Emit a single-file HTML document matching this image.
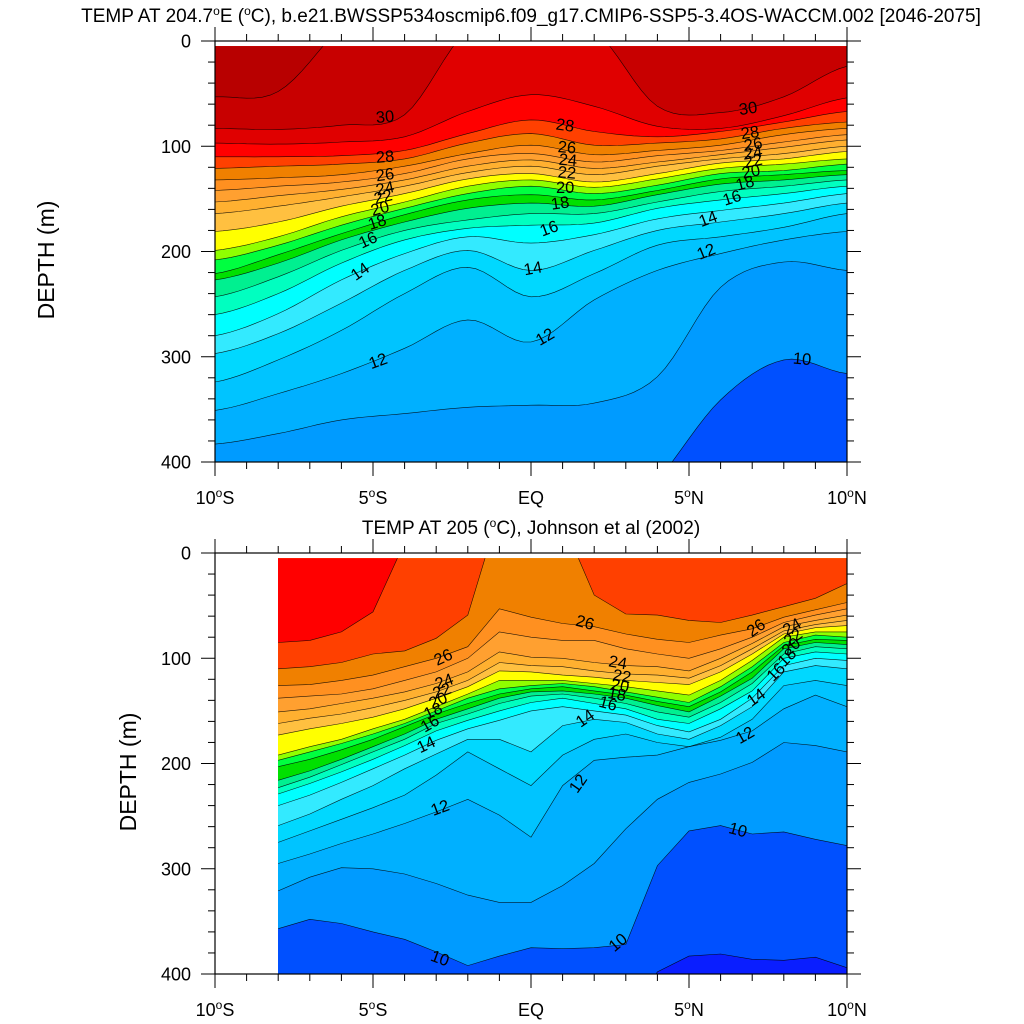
<!DOCTYPE html>
<html><head><meta charset="utf-8"><style>
html,body{margin:0;padding:0;background:#fff;}
svg{display:block;font-family:"Liberation Sans",sans-serif;}
</style></head><body>
<svg id="chart" width="1024" height="1024" viewBox="0 0 1024 1024" xmlns="http://www.w3.org/2000/svg">
<defs>
<clipPath id="clipTop"><rect x="215" y="46.3" width="632" height="415.7"/></clipPath>
<clipPath id="clipBot"><rect x="278" y="558.3" width="569" height="415.7"/></clipPath>
</defs>
<g id="topFill" clip-path="url(#clipTop)"></g>
<g id="botFill" clip-path="url(#clipBot)"></g>
<g id="axes"></g>
<text x="531" y="22" font-size="19" text-anchor="middle">TEMP AT 204.7<tspan font-size="12" dy="-7">o</tspan><tspan dy="7">E (</tspan><tspan font-size="12" dy="-7">o</tspan><tspan dy="7">C), b.e21.BWSSP534oscmip6.f09_g17.CMIP6-SSP5-3.4OS-WACCM.002 [2046-2075]</tspan></text>
<text x="531" y="534" font-size="19" text-anchor="middle">TEMP AT 205 (<tspan font-size="12" dy="-7">o</tspan><tspan dy="7">C), Johnson et al (2002)</tspan></text>
<text x="0" y="0" font-size="23" text-anchor="middle" transform="translate(54,260) rotate(-90)">DEPTH (m)</text>
<text x="0" y="0" font-size="23" text-anchor="middle" transform="translate(136,772) rotate(-90)">DEPTH (m)</text>
</svg>
<script>
// ---- data ----
const levels = [9,10,11,12,13,14,15,16,17,18,19,20,21,22,23,24,25,26,27,28,29,30,31];
const bandColors = ['#0050ff','#009bff','#00b0ff','#00c4ff','#00d8ff','#33eaff','#00ffff','#00ffc0','#00f090','#00e000','#00ff40','#90ff00','#ffff00','#ffc040','#ffb030','#ffa030','#ff9020','#f08000','#ff4000','#ff0000','#e00000','#c80000','#b80000'];
const baseColor = '#0a1eff';

const topLats = [-10,-8,-6,-4,-2,0,2,4,6,8,10];
const topT9  = [450,450,450,450,450,450,450,450,450,450,450];
const topT10 = [411,411,411,411,427,443,474,417,341,303,316];
const topT11 = [383,373,360,354,348,346,344,319,234,210,218];
const topT12 = [351,335,316,292,265,286,246,218,202,189,181];
const topT13 = [324,303,275,240,215,243,221,194,186,177,164];
const topT14 = [297,278,249,218,199,218,199,180,172,164,154];
const topT15 = [280,259,227,202,186,192,184,169,161,154,145];
const topT16 = [260,240,211,189,178,175,173,159,151,145,138];
const topT17 = [243,224,199,180,170,164,164,153,143,138,132];
const topT18 = [227,211,189,172,159,154,157,146,136,132,127];
const topT19 = [221,203,183,165,151,146,151,142,131,127,123];
const topT20 = [208,194,175,159,145,138,145,137,126,123,117];
const topT21 = [199,186,167,153,138,132,139,131,121,117,112];
const topT22 = [181,172,157,145,131,126,134,126,116,112,105];
const topT23 = [164,157,148,138,125,119,127,119,112,107,100];
const topT24 = [153,147,141,132,119,113,121,115,108,101,94];
const topT25 = [142,138,134,126,112,107,115,109,104,96,89];
const topT26 = [132,130,127,119,107,99,108,104,99,89,83];
const topT27 = [121,119,117,112,97,88,99,97,93,83,77];
const topT28 = [110,110,109,104,88,75,86,91,86,77,67];
const topT29 = [97,98,96,91,67,51,62,81,83,71,54];
const topT30 = [83,84,80,70,-10,-20,-10,62,68,53,24];
const topT31 = [53,48,-14,-64,-64,-64,-64,-64,-64,-64,-64];
const topIso = [topT9,topT10,topT11,topT12,topT13,topT14,topT15,topT16,topT17,topT18,topT19,topT20,topT21,topT22,topT23,topT24,topT25,topT26,topT27,topT28,topT29,topT30,topT31];

const botLats = [-8,-7,-6,-5,-4,-3,-2,-1,0,1,2,3,4,5,6,7,8,9,10];
const botT9  = [450,450,450,450,450,450,450,450,450,450,450,443,398,383,381,386,387,384,394];
const botT10 = [357,348,352,360,367,379,392,383,375,376,375,372,297,264,259,267,265,272,278];
const botT11 = [321,308,299,300,305,314,325,332,332,316,295,262,234,218,210,199,180,183,189];
const botT12 = [295,286,276,267,257,246,234,249,270,221,197,194,192,184,178,169,148,135,146];
const botT13 = [275,264,253,242,230,211,189,205,221,192,177,172,180,184,175,158,126,121,126];
const botT14 = [259,248,234,221,205,191,177,177,189,164,158,161,172,177,164,146,113,107,110];
const botT15 = [240,230,218,205,192,178,167,159,150,146,150,154,164,170,158,138,107,100,102];
const botT16 = [229,219,208,196,183,169,159,150,142,138,143,148,158,162,148,131,100,94,96];
const botT17 = [223,213,201,189,177,162,153,143,136,134,138,143,151,156,142,124,96,89,91];
const botT18 = [216,207,196,184,172,158,148,138,132,131,134,138,145,151,136,119,91,85,87];
const botT19 = [203,196,187,177,165,153,143,134,129,127,131,135,141,146,132,113,88,82,83];
const botT20 = [197,189,181,172,162,150,138,129,126,124,127,132,137,142,127,108,85,78,80];
const botT21 = [192,184,177,167,158,146,134,121,121,121,124,127,131,135,121,102,80,75,75];
const botT22 = [173,167,162,156,148,138,127,112,113,116,118,121,123,125,113,96,77,71,69];
const botT23 = [162,157,153,147,140,132,121,104,107,108,112,115,116,119,107,91,74,68,64];
const botT24 = [151,148,143,138,132,124,113,94,99,100,104,107,108,112,100,86,70,64,59];
const botT25 = [138,136,134,129,121,113,100,75,80,83,83,91,96,100,91,80,66,59,53];
const botT26 = [126,125,121,116,108,100,89,53,61,67,70,77,82,85,78,72,61,54,47];
const botT27 = [110,108,104,96,93,81,59,-40,-40,-30,40,58,59,64,66,59,51,43,29];
const botT28 = [85,83,75,56,-10,-10,-10,-10,-10,-10,-10,-10,-10,-10,-10,-10,-10,-10,-10];
const botT29 = [-90,-90,-90,-90,-90,-90,-90,-90,-90,-90,-90,-90,-90,-90,-90,-90,-90,-90,-90];
const botIso = [botT9,botT10,botT11,botT12,botT13,botT14,botT15,botT16,botT17,botT18,botT19,botT20,botT21,botT22,botT23,botT24,botT25,botT26,botT27,botT28,botT29];

const topLabelText = ['30','28','26','24','22','20','18','16','14','12','28','26','24','22','20','18','16','14','12','30','28','26','24','22','20','18','16','14','12','10'];
const topLabelLat = [-4.62,-4.62,-4.62,-4.62,-4.68,-4.78,-4.87,-5.16,-5.41,-4.84,1.08,1.14,1.17,1.14,1.08,0.92,0.57,0.06,0.44,6.87,6.93,7.03,7.03,7.03,6.96,6.77,6.36,5.6,5.54,8.58];
const topLabelDepth = [72,110,127,140,148,159,172,189,219,304,80,101,113,125,139,154,178,216,281,64,87,98,106,114,124,135,149,169,200,302];
const topLabelRot = [-5,-5,-8,-12,-14,-16,-18,-25,-35,-20,8,5,5,5,0,-8,-20,-10,-30,-8,-8,-10,-10,-12,-12,-15,-18,-20,-22,5];

const botLabelText = ['26','24','22','20','18','16','14','12','10','26','24','22','20','18','16','14','12','10','26','24','22','20','18','16','14','12','10'];
const botLabelLat = [-2.78,-2.75,-2.82,-2.94,-3.1,-3.2,-3.32,-2.88,-2.88,1.71,2.75,2.88,2.82,2.72,2.44,1.71,1.49,2.75,7.12,8.26,8.29,8.23,8.1,7.75,7.12,6.77,6.55];
const botLabelDepth = [99,122,131,140,150,162,182,242,385,66,104,117,126,134,143,157,219,370,71,70,80,89,99,113,137,173,263];
const botLabelRot = [-25,-20,-20,-25,-25,-30,-25,-20,20,15,10,10,10,10,15,-35,-55,-40,-35,-30,-35,-40,-45,-45,-35,-30,15];

const xTickLabels = ['10°S','5°S','EQ','5°N','10°N'];
const xTickLats = [-10,-5,0,5,10];
const yTickLabels = ['0','100','200','300','400'];
const yTickDepths = [0,100,200,300,400];

// ---- axis functions ----
const X0 = 215, X1 = 847;
function xS(lat){ return X0 + (lat + 10) / 20 * (X1 - X0); }
function yTop(d){ return 41 + d * 421 / 400; }
function yBot(d){ return 553 + d * 421 / 400; }

const NS = 'http://www.w3.org/2000/svg';
function mk(tag, attrs, parent){
  const e = document.createElementNS(NS, tag);
  for (const k in attrs) e.setAttribute(k, attrs[k]);
  parent.appendChild(e);
  return e;
}

function catmull(lats, vals, step){
  const out = [];
  for (let i = 0; i < lats.length - 1; i++){
    const p0 = vals[Math.max(0,i-1)], p1 = vals[i], p2 = vals[i+1], p3 = vals[Math.min(vals.length-1,i+2)];
    for (let s = 0; s < step; s++){
      const t = s / step, t2 = t*t, t3 = t2*t;
      const v = 0.5*((2*p1) + (-p0+p2)*t + (2*p0-5*p1+4*p2-p3)*t2 + (-p0+3*p1-3*p2+p3)*t3);
      out.push([lats[i] + (lats[i+1]-lats[i])*t, v]);
    }
  }
  out.push([lats[lats.length-1], vals[vals.length-1]]);
  return out;
}
function linear(lats, vals){ return lats.map((l,i)=>[l, vals[i]]); }

function drawPanel(g, lats, iso, lvlOffset, yF, smooth, xStart){
  const r = mk('rect', {x: xS(xStart), y: yF(0), width: X1 - xS(xStart), height: yF(400)-yF(0), fill: baseColor}, g);
  
  
  const curves = iso.map(v => smooth ? catmull(lats, v, 8) : linear(lats, v));
  curves.forEach((c, i) => {
    const lvl = levels[i + lvlOffset];
    const col = bandColors[i + lvlOffset];
    let d = 'M' + xS(c[0][0]-0.5) + ',' + yF(-100);
    d += ' L' + xS(c[0][0]-0.5) + ',' + yF(c[0][1]);
    c.forEach(p => { d += ' L' + xS(p[0]).toFixed(1) + ',' + yF(p[1]).toFixed(1); });
    const last = c[c.length-1];
    d += ' L' + xS(last[0]+0.5) + ',' + yF(last[1]) + ' L' + xS(last[0]+0.5) + ',' + yF(-100) + ' Z';
    const p = mk('path', {d: d, fill: col, stroke: 'none'}, g);
    
    
  });
  curves.forEach((c, i) => {
    const lvl = levels[i + lvlOffset];
    const pts = c.map(p => xS(p[0]).toFixed(1) + ',' + yF(p[1]).toFixed(1)).join(' ');
    const l = mk('polyline', {points: pts, fill: 'none', stroke: '#000', 'stroke-width': 0.6, 'stroke-opacity': 0.85}, g);
    
    
  });
}

function drawLabels(g, txt, lat, dep, rot, yF){
  txt.forEach((t, i) => {
    const x = xS(lat[i]), y = yF(dep[i]);
    const e = mk('text', {x: x, y: y + 5.5, 'font-size': 16.5, 'text-anchor': 'middle', transform: 'rotate(' + rot[i] + ' ' + x + ' ' + y + ')'}, g);
    e.textContent = t;
    
    
  });
}

function drawAxes(g, yF, labelY){
  const top = yF(0), bot = yF(400);
  const fr = mk('rect', {x: X0, y: top, width: X1 - X0, height: bot - top, fill: 'none', stroke: '#000', 'stroke-width': 1.2}, g);
  
  
  for (let lat = -10; lat <= 10; lat++){
    const major = lat % 5 === 0;
    const len = major ? 14 : 7;
    const x = xS(lat);
    const t1 = mk('line', {x1: x, y1: bot, x2: x, y2: bot + len, stroke: '#000', 'stroke-width': 1}, g);
    
    
    const t2 = mk('line', {x1: x, y1: top, x2: x, y2: top - len, stroke: '#000', 'stroke-width': 1}, g);
    
    
  }
  for (let d = 0; d <= 400; d += 20){
    const major = d % 100 === 0;
    const len = major ? 14 : 7;
    const y = yF(d);
    const t1 = mk('line', {x1: X0 - len, y1: y, x2: X0, y2: y, stroke: '#000', 'stroke-width': 1}, g);
    
    
    const t2 = mk('line', {x1: X1, y1: y, x2: X1 + len, y2: y, stroke: '#000', 'stroke-width': 1}, g);
    
    
  }
  xTickLabels.forEach((t, i) => {
    const e = mk('text', {x: xS(xTickLats[i]), y: labelY, 'font-size': 18, 'text-anchor': 'middle'}, g);
    e.innerHTML = t.replace('°', '<tspan font-size="12" dy="-7">o</tspan><tspan dy="7">') + (t.indexOf('°') >= 0 ? '</tspan>' : '');
    
    
  });
  yTickLabels.forEach((t, i) => {
    const e = mk('text', {x: 191, y: yF(yTickDepths[i]) + 6.5, 'font-size': 18, 'text-anchor': 'end'}, g);
    e.textContent = t;
    
    
  });
}

const gT = document.getElementById('topFill');
const gB = document.getElementById('botFill');
const gA = document.getElementById('axes');
drawPanel(gT, topLats, topIso, 0, yTop, true, -10);
drawPanel(gB, botLats, botIso, 0, yBot, false, -8);
drawLabels(gA, topLabelText, topLabelLat, topLabelDepth, topLabelRot, yTop);
drawLabels(gA, botLabelText, botLabelLat, botLabelDepth, botLabelRot, yBot);
drawAxes(gA, yTop, 504);
drawAxes(gA, yBot, 1016);
</script>
</body></html>
